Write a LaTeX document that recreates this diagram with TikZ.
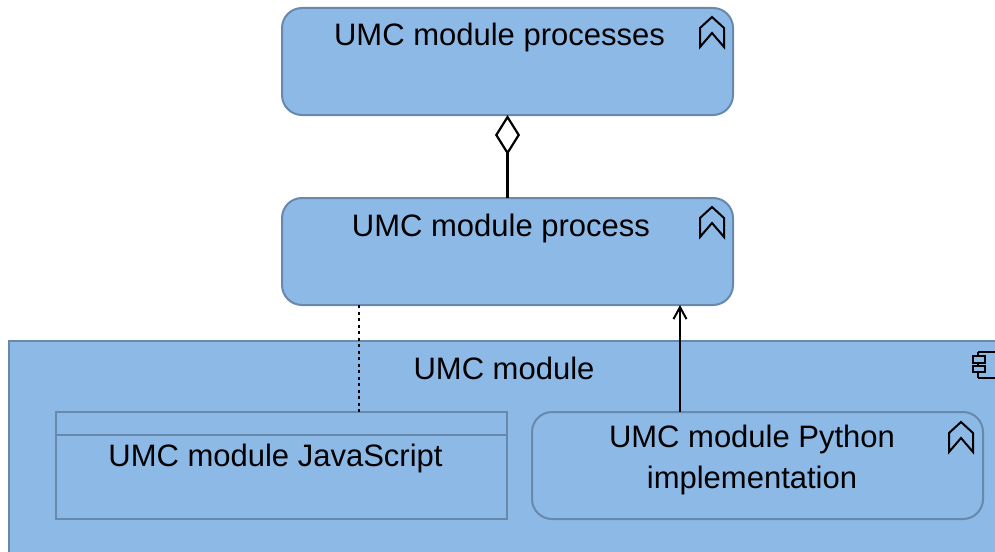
\documentclass[tikz,border=0pt]{standalone}
\usepackage{fontspec}
\setmainfont{Liberation Sans}
\usetikzlibrary{arrows.meta}
\definecolor{boxfill}{RGB}{141,185,230}
\definecolor{boxline}{RGB}{104,136,172}
\tikzset{
  x=1pt,y=-1pt,
  box/.style={draw=boxline,fill=boxfill,line width=2pt,minimum width=451pt,minimum height=107pt,inner sep=0pt,outer sep=0pt},
  rbox/.style={box,rounded corners=20pt},
  lbl/.style={font=\fontsize{31}{41}\selectfont,anchor=base,inner sep=0pt,text=black},
  conn/.style={draw=black,line width=2.2pt},
  icon/.style={draw=black,line width=2pt,line join=miter}
}
\newcommand{\procicon}[2]{%
  \draw[icon] (#1,#2) -- ++(12,11) -- ++(0,19) -- ++(-12,-14) -- ++(-12,14) -- ++(0,-19) -- cycle;}
\begin{document}
\begin{tikzpicture}
\path[use as bounding box] (0,0) rectangle (995,551);
\clip (0,0) rectangle (995,551);
\fill[white] (0,0) rectangle (995,551);
\node[box,minimum width=1000pt,minimum height=230pt,anchor=north west] (comp) at (9,341) {};
\node[rbox,anchor=north west] (procs) at (282,8) {};
\node[rbox,anchor=north west] (proc) at (282,198) {};
\node[box,anchor=north west] (js) at (56,412) {};
\node[rbox,anchor=north west] (py) at (532,412) {};
\draw[draw=boxline,line width=2pt] ([yshift=-23pt]js.north west) -- ([yshift=-23pt]js.north east);
\node[lbl] (tprocs) at (499.5,46) {UMC module processes};
\node[lbl] (tproc) at (501,236) {UMC module process};
\node[lbl] (tcomp) at (504,379) {UMC module};
\node[lbl] (tjs) at (275.5,466) {UMC module JavaScript};
\node[lbl,align=center,anchor=center] (tpy) at (752,460) {UMC module Python\\implementation};
\procicon{712}{17}
\procicon{712}{207}
\procicon{961}{422}
\draw[icon] (978,352) -- (1000,352) (978,378) -- (1000,378) (978,352) -- (978,356) (978,363) -- (978,366) (978,372) -- (978,378);
\draw[icon] (973,356) rectangle (985,363);
\draw[icon] (973,366) rectangle (985,372);
\coordinate (dtop) at ([xshift=-148.5pt]proc.south);
\coordinate (atop) at ([xshift=172.5pt]proc.south);
\draw[conn,-{Diamond[open,length=40pt,width=25pt,line width=2.2pt]}] (proc.north) -- (procs.south);
\draw[conn,dash pattern=on 3pt off 3.5pt] (dtop) -- (dtop |- js.north);
\draw[conn,-{Straight Barb[length=12pt,width=13pt,line width=2pt]}] (atop |- py.north) -- (atop);
\end{tikzpicture}
\end{document}
